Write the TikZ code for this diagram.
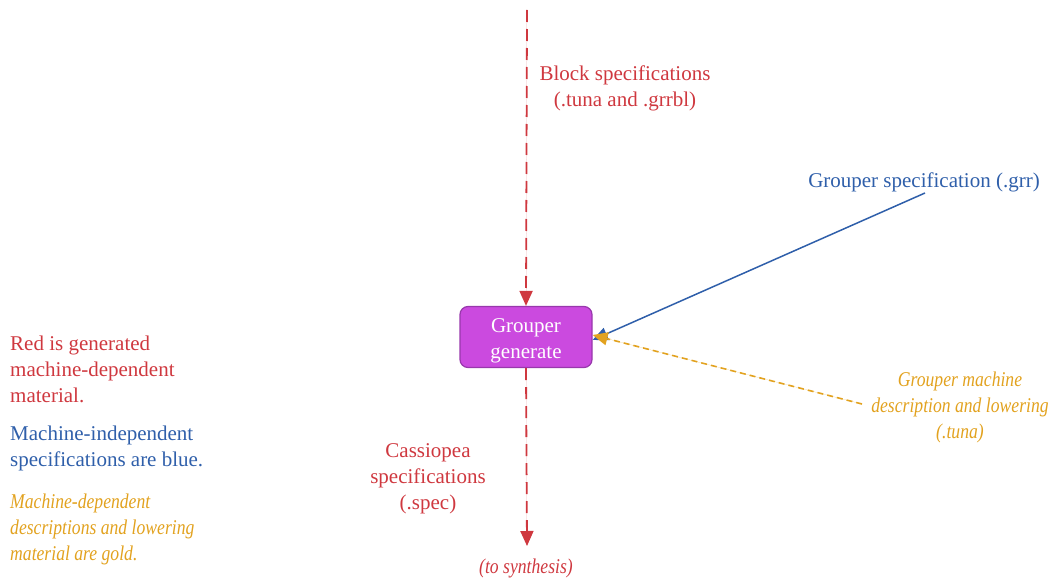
\documentclass[tikz,border=0pt]{standalone}
\usepackage{fontspec}
\setmainfont{Liberation Serif}
\newfontfamily\narrowital[FakeStretch=0.84]{Liberation Serif Italic}
\usetikzlibrary{arrows.meta}
\definecolor{genred}{HTML}{CF383F}
\definecolor{specblue}{HTML}{2F5FAA}
\definecolor{mdgold}{HTML}{E2A21F}
\definecolor{boxfill}{HTML}{CB4ADF}
\definecolor{boxedge}{HTML}{9838AC}
\tikzset{
  x=1pt, y=-1pt,
  txt/.style={font=\fontsize{21}{26}\selectfont, inner sep=0pt, align=center},
  redtxt/.style={txt, text=genred},
  bluetxt/.style={txt, text=specblue},
  goldtxt/.style={txt, text=mdgold, font=\fontsize{21}{26}\narrowital},
  legend/.style={align=left, anchor=north west},
  tip/.style={-{Triangle[length=15pt,width=13pt]}},
  redflow/.style={tip, draw=genred, fill=genred, line width=1.8pt, dash pattern=on 12pt off 7pt},
  blueflow/.style={tip, draw=specblue, fill=specblue, line width=1.5pt},
  goldflow/.style={tip, draw=mdgold, fill=mdgold, line width=1.6pt, dash pattern=on 6pt off 4pt},
  procbox/.style={draw=boxedge, fill=boxfill, line width=1.2pt, rounded corners=8pt,
    minimum width=132pt, minimum height=61pt, inner sep=0pt},
  boxtxt/.style={txt, text=white}
}
\begin{document}
\begin{tikzpicture}
\useasboundingbox (0,0) rectangle (1053,578);

% central process
\node[procbox] (gen) at (526,337) {};
\node[boxtxt] (genlabel) at (526,341) {Grouper\\generate};

% inputs and outputs
\coordinate (topin) at (527,10);
\node[redtxt] (block) at (625,88) {Block specifications\\(.tuna and .grrbl)};
\node[bluetxt] (grr) at (924,182) {Grouper specification (.grr)};
\coordinate (grrfoot) at (925,193);
\node[goldtxt] (mach) at (960,407) {Grouper machine\\description and lowering\\(.tuna)};
\coordinate (machfoot) at (862,404);
\node[redtxt] (cass) at (428,479) {Cassiopea\\specifications\\(.spec)};
\node[goldtxt, text=genred] (synth) at (526,568) {(to synthesis)};
\coordinate (synthtop) at (527,546);

% connectors
\draw[redflow] (topin) -- (gen.north);
\draw[blueflow] (grrfoot) -- ([yshift=-3pt]gen.east);
\draw[goldflow] (machfoot) -- ([yshift=2pt]gen.east);
\draw[redflow] (gen.south) -- (synthtop);

% colour key
\node[redtxt, legend] (keyred) at (10,336) {Red is generated\\machine-dependent\\material.};
\node[bluetxt, legend] (keyblue) at (10,426) {Machine-independent\\specifications are blue.};
\node[goldtxt, legend] (keygold) at (10,494) {Machine-dependent\\descriptions and lowering\\material are gold.};
\end{tikzpicture}
\end{document}
